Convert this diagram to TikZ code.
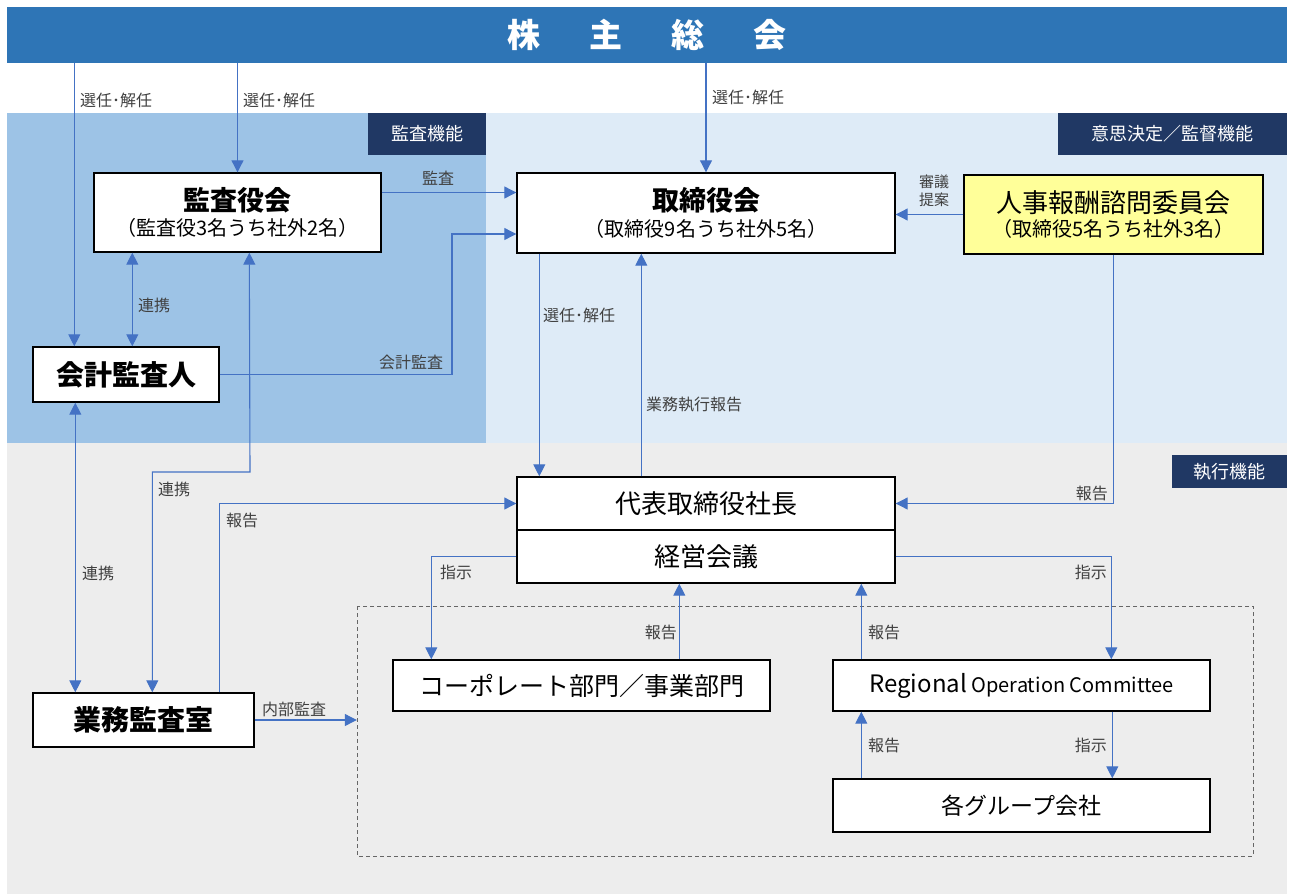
\documentclass[tikz,border=0pt]{standalone}
\usepackage{fontspec}
\setmainfont{Noto Sans CJK JP}
\usetikzlibrary{arrows.meta,calc}
\definecolor{bannerc}{HTML}{2E75B6}
\definecolor{auditbg}{HTML}{9DC3E6}
\definecolor{decbg}{HTML}{DEEBF7}
\definecolor{execbg}{HTML}{EDEDED}
\definecolor{tagc}{HTML}{203864}
\definecolor{arrowc}{HTML}{4472C4}
\definecolor{lblc}{HTML}{404040}
\definecolor{yellowc}{HTML}{FFFF99}
\newcommand{\myfs}[1]{\fontsize{#1}{#1}\selectfont}
\begin{document}
\begin{tikzpicture}[x=1pt,y=-1pt,
  box/.style={draw=black, line width=1.4pt, fill=white, inner sep=0pt, align=center},
  arr/.style={draw=arrowc, line width=1.1pt, -{Triangle[width=12pt,length=12pt]}},
  darr/.style={draw=arrowc, line width=1.1pt, {Triangle[width=12pt,length=12pt]}-{Triangle[width=12pt,length=12pt]}},
  lbl/.style={text=lblc, font=\myfs{16}, inner sep=0pt},
  tag/.style={fill=tagc, text=white, inner sep=0pt, font=\myfs{18}}
]
\useasboundingbox (0,0) rectangle (1290,894);
\fill[white] (0,0) rectangle (1290,894);
\fill[execbg] (7,443) rectangle (1287,894);
\fill[auditbg] (7,113) rectangle (486,443);
\fill[decbg] (486,113) rectangle (1287,443);

\node[fill=bannerc, minimum width=1280pt, minimum height=56pt, inner sep=0pt, text=white, font=\bfseries\myfs{33}] (banner) at (647,35) {株\hspace{49pt}主\hspace{49pt}総\hspace{49pt}会};

\node[tag, minimum width=118pt, minimum height=42pt] (tagA) at (427,134) {監査機能};
\node[tag, minimum width=229pt, minimum height=42pt] (tagB) at (1172.5,134) {意思決定／監督機能};
\node[tag, minimum width=115pt, minimum height=33pt] (tagC) at (1229.5,471.5) {執行機能};

\draw[gray!80!black, line width=1pt, dash pattern=on 4pt off 3pt] (357,606) rectangle (1253,856);
\node[minimum width=896pt, minimum height=250pt, inner sep=0pt] (dbox) at (805,731) {};

\node[box, minimum width=287pt, minimum height=79pt] (kansa) at (237.5,212.5)
  {{\bfseries\myfs{27}監査役会}\\[5pt]{\myfs{20}（監査役3名うち社外2名）}};
\node[box, minimum width=378pt, minimum height=80pt] (torishimari) at (706,213)
  {{\bfseries\myfs{27}取締役会}\\[5pt]{\myfs{20}（取締役9名うち社外5名）}};
\node[box, fill=yellowc, minimum width=299pt, minimum height=79pt] (jinji) at (1113.5,214.5)
  {{\myfs{26}人事報酬諮問委員会}\\[4pt]{\myfs{20}（取締役5名うち社外3名）}};
\node[box, minimum width=186pt, minimum height=55pt, font=\bfseries\myfs{28}] (kaikei) at (126,374.5) {会計監査人};
\node[box, minimum width=378pt, minimum height=53pt, font=\myfs{26}] (pres) at (706,503.5) {代表取締役社長};
\node[box, minimum width=378pt, minimum height=53pt, font=\myfs{26}] (keiei) at (706,556.5) {経営会議};
\node[box, minimum width=221pt, minimum height=54pt, font=\bfseries\myfs{28}] (gyomu) at (143.5,720) {業務監査室};
\node[box, minimum width=377pt, minimum height=51pt, font=\myfs{25}] (corp) at (581.5,685.5) {コーポレート部門／事業部門};
\node[box, minimum width=377pt, minimum height=51pt, font=\myfs{20}] (roc) at (1021.5,685.5) {{\myfs{24}Regional}\ Operation Committee};
\node[box, minimum width=377pt, minimum height=53pt, font=\myfs{23}] (group) at (1021.5,805.5) {各グループ会社};

% connectors
\draw[arr] ([xshift=42pt]kaikei.north west |- banner.south) -- ([xshift=42pt]kaikei.north west);
\draw[arr] (kansa.north |- banner.south) -- (kansa.north);
\draw[arr] (torishimari.north |- banner.south) -- (torishimari.north);
\draw[arr] ([yshift=20pt]kansa.east) -- ([yshift=20pt]kansa.east -| torishimari.west);
\coordinate (j1) at (452,234);
\draw[arr] (kaikei.east) -| (j1) -- (j1 -| torishimari.west);
\draw[darr] ([xshift=100pt]kaikei.north west) -- ([xshift=39pt]kansa.south west);
\draw[darr] ([xshift=43pt]kaikei.south west) -- ([xshift=43pt]gyomu.north west);
\coordinate (j2) at (250,472);
\draw[darr] ([xshift=120pt]gyomu.north west) |- (j2) -- ([xshift=156pt]kansa.south west);
\draw[arr] ([xshift=187pt]gyomu.north west) |- (pres.west);
\draw[arr] (gyomu.east) -- (gyomu.east -| dbox.west);
\draw[arr] ([xshift=23pt]torishimari.south west) -- ([xshift=23pt]pres.north west);
\draw[arr] ([xshift=125pt]pres.north west) -- ([xshift=125pt]torishimari.south west);
\draw[arr] (jinji.west) -- (jinji.west -| torishimari.east);
\draw[arr] (jinji.south) |- (pres.east);
\draw[arr] (keiei.west) -| ([xshift=39pt]corp.north west);
\draw[arr] (keiei.east) -| ([xshift=279pt]roc.north west);
\draw[arr] ([xshift=287pt]corp.north west) -- ([xshift=163pt]keiei.south west);
\draw[arr] ([xshift=29pt]roc.north west) -- ([xshift=345pt]keiei.south west);
\draw[arr] ([xshift=29pt]group.north west) -- ([xshift=29pt]roc.south west);
\draw[arr] ([xshift=280pt]roc.south west) -- ([xshift=280pt]group.north west);

% labels
\node[lbl, anchor=west] (l1) at (80,100) {選任･解任};
\node[lbl, anchor=west] (l2) at (243,100) {選任･解任};
\node[lbl, anchor=west] (l3) at (712,97) {選任･解任};
\node[lbl] (l4) at (438,178) {監査};
\node[lbl] (l5) at (411,362) {会計監査};
\node[lbl, anchor=west] (l6) at (138,305) {連携};
\node[lbl, anchor=west] (l7) at (82,573) {連携};
\node[lbl, anchor=west] (l8) at (158,489) {連携};
\node[lbl, anchor=west] (l9) at (226,520) {報告};
\node[lbl, anchor=west] (l10) at (262,709) {内部監査};
\node[lbl, anchor=west] (l11) at (543,315) {選任･解任};
\node[lbl, anchor=west] (l12) at (646,405) {業務執行報告};
\node[lbl, align=center, font=\fontsize{15}{18}\selectfont] (l13) at (934,191) {審議\\提案};
\node[lbl, anchor=east] (l14) at (1108,493) {報告};
\node[lbl, anchor=west] (l15) at (440,572) {指示};
\node[lbl, anchor=east] (l16) at (1107,572) {指示};
\node[lbl, anchor=east] (l17) at (677,632) {報告};
\node[lbl, anchor=west] (l18) at (868,632) {報告};
\node[lbl, anchor=west] (l19) at (868,745) {報告};
\node[lbl, anchor=east] (l20) at (1107,745) {指示};
\end{tikzpicture}
\end{document}
